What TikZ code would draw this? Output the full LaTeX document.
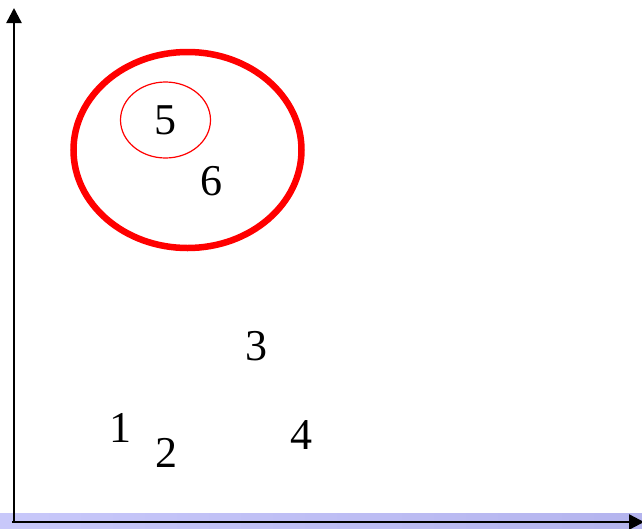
\documentclass[tikz,border=0pt]{standalone}
\usepackage{fontspec}
\setmainfont{Liberation Serif}
\usetikzlibrary{arrows.meta,shapes.geometric}
\begin{document}
\begin{tikzpicture}[x=1pt,y=-1pt,
  num/.style={font=\fontsize{44}{50}\selectfont, inner sep=0pt},
  axis/.style={line width=2.4pt, -{Triangle[length=15pt,width=15pt]}}]
\useasboundingbox (0,0) rectangle (642,528);
\shade[left color={rgb,255:red,200;green,200;blue,250}, right color={rgb,255:red,180;green,180;blue,238}] (0,513) rectangle (642,528);
\coordinate (o) at (14,522);
\coordinate (ytop) at (14,8);
\coordinate (xend) at (644,522);
\draw[axis] (o) -- (ytop);
\draw[axis] (12,522) -- (xend);
\node[draw=red, line width=6.5pt, ellipse, minimum width=228pt, minimum height=196pt, inner sep=0pt] (big) at (187.5,150) {};
\node[draw=red, line width=1.2pt, ellipse, minimum width=90pt, minimum height=76pt, inner sep=0pt] (small) at (165.5,120) {};
\node[num] (n5) at (165,120) {5};
\node[num] (n6) at (211,181) {6};
\node[num] (n3) at (256,346) {3};
\node[num] (n1) at (120,428) {1};
\node[num] (n2) at (166,453) {2};
\node[num] (n4) at (301,435) {4};
\end{tikzpicture}
\end{document}
